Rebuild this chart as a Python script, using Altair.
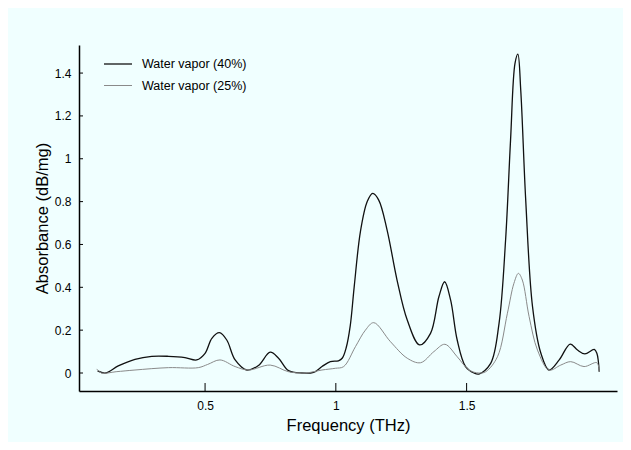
import altair as alt
import pandas as pd

# 40% water vapor curve (frequency THz, absorbance dB/mg)
f40 = [0.089, 0.12, 0.168, 0.232, 0.296, 0.36, 0.423, 0.468, 0.50, 0.526, 0.555, 0.583,
       0.615, 0.66, 0.704, 0.749, 0.781, 0.819, 0.87, 0.915, 0.947, 0.979, 1.01, 1.025,
       1.04, 1.055, 1.07, 1.094, 1.12, 1.141, 1.164, 1.196, 1.234, 1.273, 1.32, 1.362, 1.394,
       1.416, 1.439, 1.464, 1.496, 1.528, 1.547, 1.592, 1.624, 1.649, 1.668, 1.685, 1.696,
       1.707, 1.726, 1.752, 1.784, 1.815, 1.854, 1.896, 1.924, 1.952, 1.988, 1.998, 2.007]
a40 = [0.010, 0.0, 0.033, 0.064, 0.078, 0.078, 0.072, 0.061, 0.092, 0.162, 0.188, 0.154,
       0.061, 0.014, 0.035, 0.097, 0.069, 0.011, 0.0, 0.003, 0.03, 0.053, 0.057, 0.07,
       0.12, 0.22, 0.40, 0.66, 0.80, 0.838, 0.807, 0.667, 0.434, 0.247, 0.131, 0.185, 0.356,
       0.426, 0.34, 0.154, 0.03, 0.0, -0.005, 0.045, 0.232, 0.62, 1.087, 1.445, 1.488,
       1.32, 0.807, 0.31, 0.092, 0.014, 0.061, 0.135, 0.107, 0.089, 0.11, 0.092, 0.006]

# 25% water vapor curve
f25 = [0.086, 0.104, 0.16, 0.232, 0.36, 0.474, 0.51, 0.557, 0.615, 0.666, 0.749, 0.819,
       0.883, 0.947, 0.998, 1.03, 1.075, 1.113, 1.145, 1.209, 1.273, 1.324, 1.375, 1.417,
       1.464, 1.509, 1.547, 1.573, 1.618, 1.656, 1.681, 1.698, 1.713, 1.739, 1.771, 1.815,
       1.86, 1.898, 1.949, 1.998, 2.007]
a25 = [0.019, 0.0, 0.006, 0.014, 0.025, 0.025, 0.04, 0.061, 0.03, 0.014, 0.037, 0.006,
       0.0, 0.014, 0.022, 0.03, 0.123, 0.2, 0.235, 0.146, 0.069, 0.048, 0.1, 0.134,
       0.076, 0.014, 0.0, 0.006, 0.076, 0.279, 0.419, 0.465, 0.434, 0.263, 0.107, 0.014,
       0.037, 0.053, 0.03, 0.048, 0.006]

series_names = ["Water vapor (40%)", "Water vapor (25%)"]
x_ticks = [0.5, 1, 1.5]
y_ticks = [0, 0.2, 0.4, 0.6, 0.8, 1, 1.2, 1.4]

df = pd.concat([
    pd.DataFrame({"f": f40, "a": a40, "s": series_names[0]}),
    pd.DataFrame({"f": f25, "a": a25, "s": series_names[1]}),
])

W, H = 538, 346
FONT = "Liberation Sans"

xs = alt.Scale(domain=[0.018, 2.075], nice=False, zero=False)
ys = alt.Scale(domain=[-0.084, 1.531], nice=False, zero=False)

leg = dict(title=None, orient="none", legendX=24, legendY=4,
           symbolType="stroke", symbolSize=784, labelOffset=9,
           labelFont=FONT, labelFontSize=12.5, labelColor="black",
           rowPadding=-5)

lines = alt.Chart(df).mark_line(interpolate="catmull-rom").encode(
    x=alt.X("f:Q", scale=xs, axis=alt.Axis(
        title="Frequency (THz)", values=x_ticks, format="~g", ticks=False, tickSize=0,
        grid=False, domainColor="black", domainWidth=1.5, labelPadding=9,
        labelFontSize=12, labelColor="black", labelFont=FONT,
        titleFont=FONT, titleFontSize=16.5, titleFontWeight="normal", titleColor="black",
        titleY=34, titleBaseline="middle")),
    y=alt.Y("a:Q", scale=ys, axis=alt.Axis(
        title="Absorbance (dB/mg)", values=y_ticks, format="~g", ticks=False, tickSize=0,
        grid=False, domainColor="black", domainWidth=1.5, labelPadding=8,
        labelFontSize=12, labelColor="black", labelFont=FONT,
        titleFont=FONT, titleFontSize=16.5, titleFontWeight="normal", titleColor="black",
        titleX=-37, titleBaseline="middle")),
    color=alt.Color("s:N", scale=alt.Scale(domain=series_names, range=["#111111", "#8a8a8a"]),
                    legend=alt.Legend(**leg)),
    strokeWidth=alt.StrokeWidth("s:N", scale=alt.Scale(domain=series_names, range=[1.3, 1.0]),
                                legend=alt.Legend(**leg)),
)

xt = alt.Chart(pd.DataFrame({"t": x_ticks})).mark_rule(color="black", strokeWidth=1).encode(
    x=alt.X("t:Q", scale=xs), y=alt.value(H), y2=alt.value(H - 8))
yt = alt.Chart(pd.DataFrame({"t": y_ticks})).mark_rule(color="black", strokeWidth=1).encode(
    y=alt.Y("t:Q", scale=ys), x=alt.value(0), x2=alt.value(4))

chart = alt.layer(lines, xt, yt).properties(
    width=W, height=H,
    background="#f0ffff",
    padding={"left": 71, "top": 37, "right": 6, "bottom": 51},
    autosize=alt.AutoSizeParams(type="none"),
).configure_view(stroke=None)

chart.save("out.html", embed_options={"renderer": "svg", "actions": False})
